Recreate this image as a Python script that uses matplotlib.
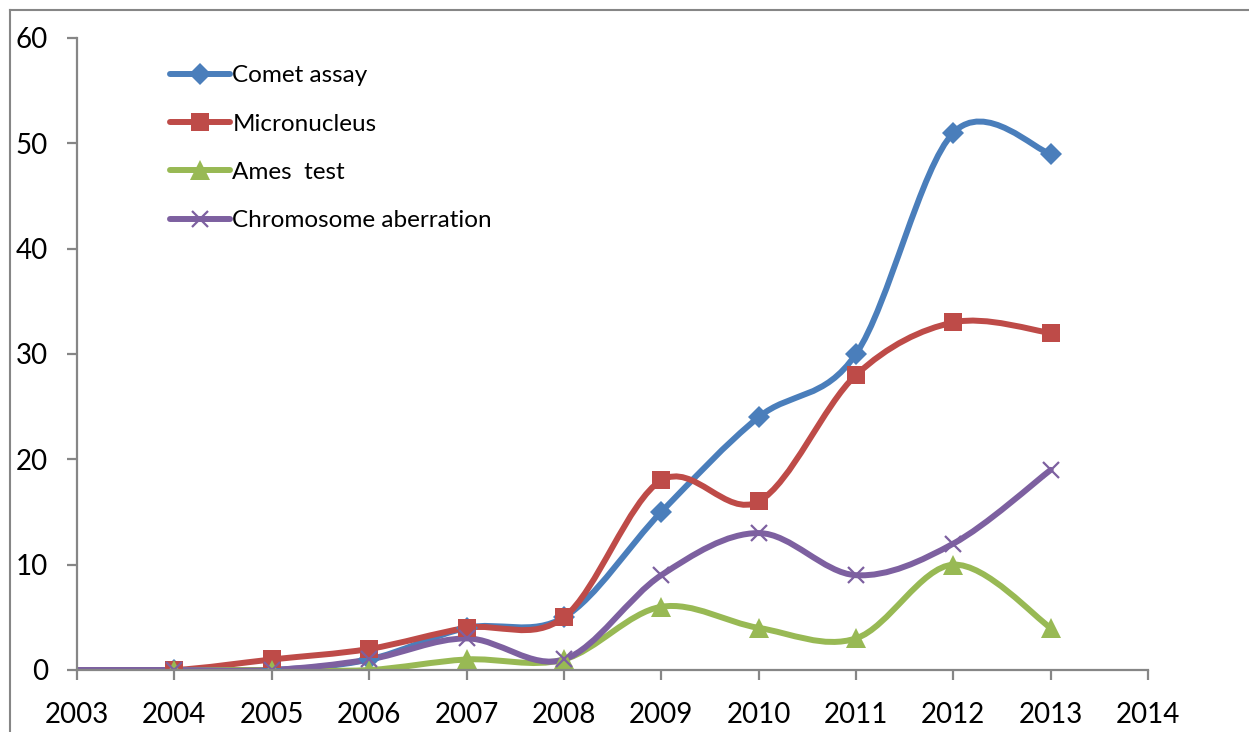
import numpy as np
import matplotlib
matplotlib.use('Agg')
import matplotlib.pyplot as plt
from matplotlib.path import Path
from matplotlib.patches import PathPatch
from matplotlib.lines import Line2D

plt.rcParams['font.family'] = ['Lato', 'DejaVu Sans']

# data (2003 is the start of the line, no marker)
years = [2003, 2004, 2005, 2006, 2007, 2008, 2009, 2010, 2011, 2012, 2013]
comet = [0, 0, 0, 1, 4, 5, 15, 24, 30, 51, 49]
micronucleus = [0, 0, 1, 2, 4, 5, 18, 16, 28, 33, 32]
ames = [0, 0, 0, 0, 1, 1, 6, 4, 3, 10, 4]
chromosome = [0, 0, 0, 1, 3, 1, 9, 13, 9, 12, 19]

series = [
    ('Comet assay', comet, '#4A7EBB', 'D', 11, 1),
    ('Micronucleus', micronucleus, '#BE4B48', 's', 13, 1),
    ('Ames  test', ames, '#98B954', '^', 14, 1),
    ('Chromosome aberration', chromosome, '#7D60A0', 'x', 12, 1.6),
]


def smooth_path(x, y):
    # excel-like smoothed line: catmull-rom segments as cubic beziers
    x = np.asarray(x, float)
    y = np.asarray(y, float)
    n = len(x)
    verts = [(x[0], y[0])]
    codes = [Path.MOVETO]
    for i in range(n - 1):
        i0 = max(i - 1, 0)
        i3 = min(i + 2, n - 1)
        c1 = (x[i] + (x[i + 1] - x[i0]) / 6, y[i] + (y[i + 1] - y[i0]) / 6)
        c2 = (x[i + 1] - (x[i3] - x[i]) / 6, y[i + 1] - (y[i3] - y[i]) / 6)
        verts += [c1, c2, (x[i + 1], y[i + 1])]
        codes += [Path.CURVE4] * 3
    return Path(verts, codes)


fig = plt.figure(figsize=(12.49, 7.32), dpi=100)
ax = fig.add_axes([0.0617, 0.0847, 0.8575, 0.8634])

handles = []
for label, vals, color, marker, ms, mew in series:
    patch = PathPatch(smooth_path(years, vals), facecolor='none', edgecolor=color,
                      lw=4.3, capstyle='round', joinstyle='round')
    ax.add_patch(patch)
    if marker == 'x':
        ax.plot(years[1:], vals[1:], ls='none', marker=marker, ms=ms, mew=mew,
                color=color)
    else:
        ax.plot(years[1:], vals[1:], ls='none', marker=marker, ms=ms, mew=0,
                color=color)
    handles.append(Line2D([], [], color=color, lw=4.3, marker=marker, ms=ms,
                          mew=mew if marker == 'x' else 0, solid_capstyle='round'))

ax.set_xlim(2003, 2014)
ax.set_ylim(0, 60)
ax.set_xticks(range(2003, 2015))
ax.set_yticks(range(0, 61, 10))

for s in ['top', 'right']:
    ax.spines[s].set_visible(False)
for s in ['left', 'bottom']:
    ax.spines[s].set_color('#868686')
    ax.spines[s].set_linewidth(1.6)
ax.tick_params(axis='both', colors='#868686', width=1.6, length=7,
               direction='out', labelcolor='black', labelsize=20)
ax.tick_params(axis='y', pad=14)
ax.tick_params(axis='x', pad=16)

leg = ax.legend(handles, [s[0] for s in series], loc='upper left',
                bbox_to_anchor=(0.078, 0.972), frameon=False, fontsize=17.5,
                handlelength=2.45, handletextpad=0.1, labelspacing=1.12,
                borderaxespad=0)

# chart area border (top and left edges visible)
fig.add_artist(Line2D([0.008, 1], [0.987, 0.987], color='#868686', lw=1.5,
                      transform=fig.transFigure))
fig.add_artist(Line2D([0.008, 0.008], [0, 0.987], color='#868686', lw=1.5,
                      transform=fig.transFigure))

fig.savefig('out.png', dpi=100)
